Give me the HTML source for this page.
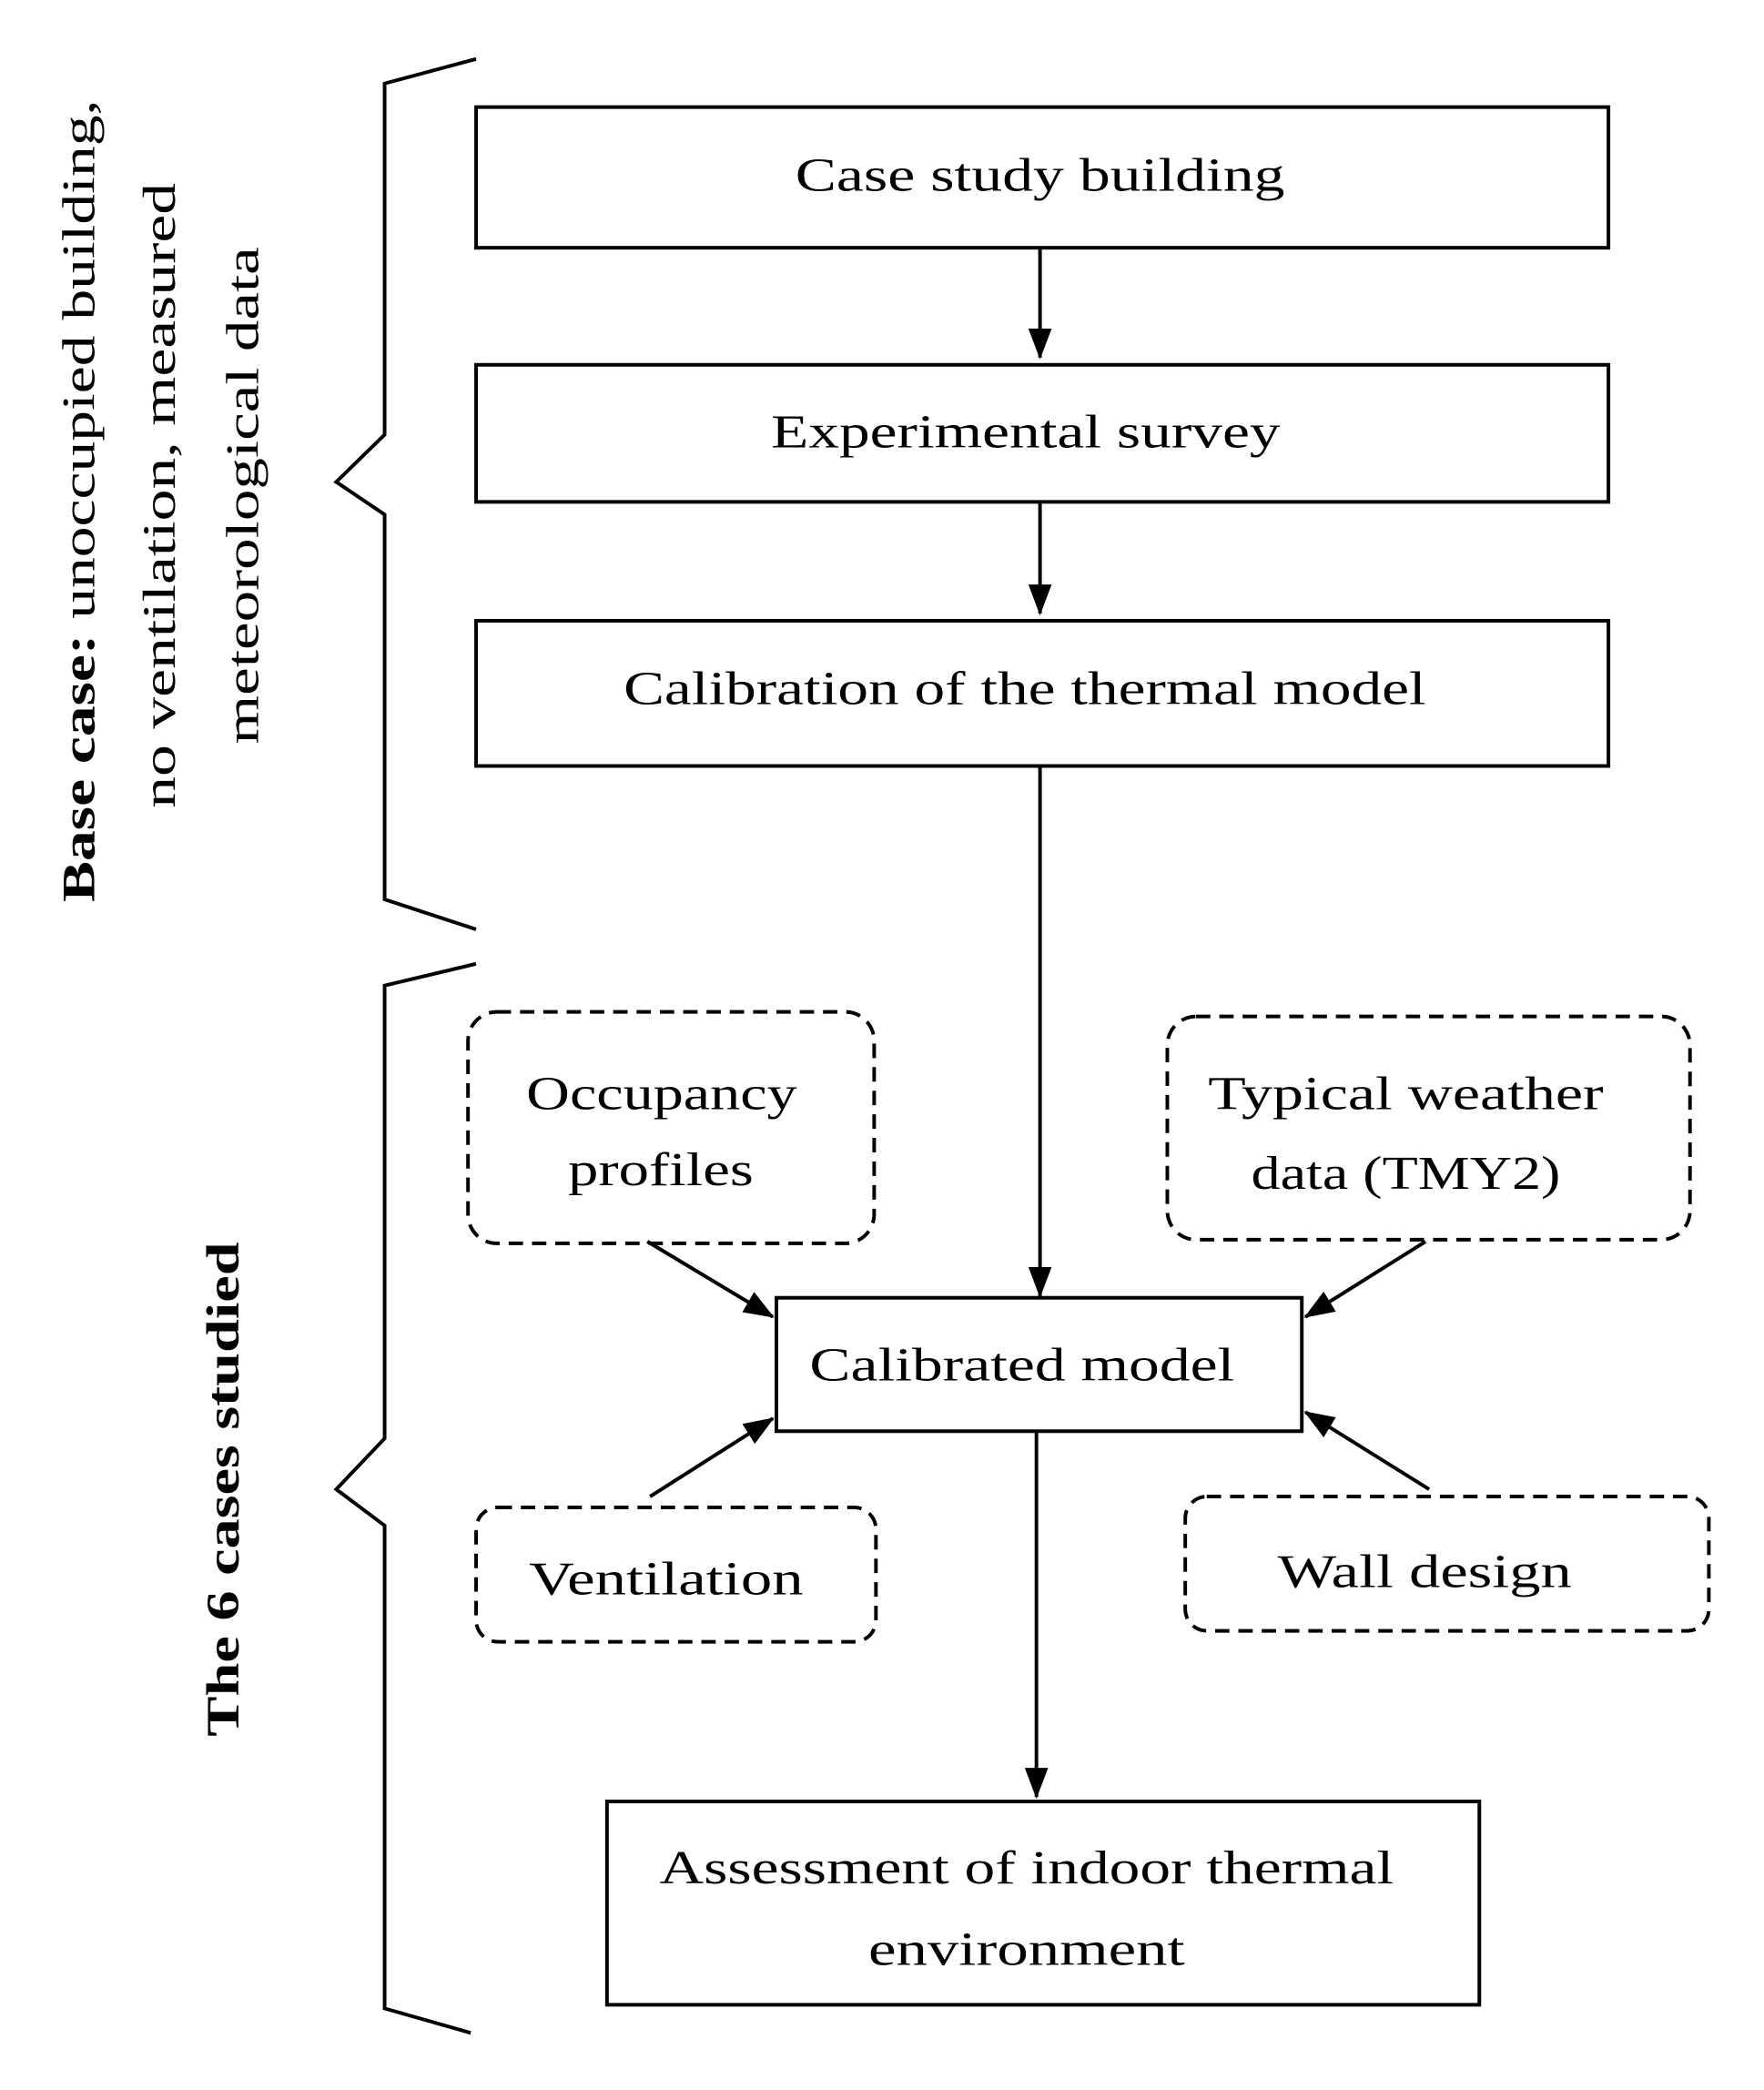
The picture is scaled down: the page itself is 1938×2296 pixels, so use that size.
<!DOCTYPE html>
<html><head><meta charset="utf-8"><style>html,body{margin:0;padding:0;background:#fff}svg{display:block}</style></head>
<body>
<svg width="1938" height="2296" viewBox="0 0 1938 2296" xmlns="http://www.w3.org/2000/svg" font-family="'Liberation Serif', serif" fill="none">
<defs>
<marker id="b" markerWidth="34" markerHeight="26" refX="32" refY="13" orient="auto" markerUnits="userSpaceOnUse"><path d="M0,0 L34,13 L0,26 z" fill="#000"/></marker></defs>
<g transform="scale(0.985,0.997)">
<g stroke="#000" stroke-width="4">
<path d="M531,65 L429,92 L429,479 L375,531 L429,567 L429,991 L531,1024"/>
<path d="M531,1062 L429,1086 L429,1585 L375,1641 L429,1681 L429,2213 L525,2240"/>
<rect x="531" y="118" width="1263" height="155"/>
<rect x="531" y="402" width="1263" height="151"/>
<rect x="531" y="684" width="1263" height="160"/>
<rect x="866" y="1430" width="586" height="147"/>
<rect x="677" y="1985" width="973" height="224"/>
</g>
<g stroke="#000" stroke-width="4" stroke-dasharray="16,10">
<rect x="522" y="1115" width="453" height="255" rx="32"/>
<rect x="1302" y="1120" width="583" height="246" rx="32"/>
<rect x="531" y="1661" width="446" height="148" rx="24"/>
<rect x="1322" y="1649" width="584" height="148" rx="24"/>
</g>
<g stroke="#000" stroke-width="4" marker-end="url(#b)">
<line x1="1160" y1="273" x2="1160" y2="394"/>
<line x1="1160" y1="553" x2="1160" y2="676"/>
<line x1="1160" y1="844" x2="1160" y2="1428"/>
<line x1="1156" y1="1577" x2="1156" y2="1980"/>
<line x1="722" y1="1368" x2="862" y2="1451"/>
<line x1="1590" y1="1368" x2="1456" y2="1451"/>
<line x1="725" y1="1649" x2="862" y2="1563"/>
<line x1="1594" y1="1641" x2="1456" y2="1556"/>
</g>
<g fill="#000" font-size="52" text-anchor="middle">
<text x="1160" y="210" textLength="546" lengthAdjust="spacingAndGlyphs">Case study building</text>
<text x="1144" y="493" textLength="568" lengthAdjust="spacingAndGlyphs">Experimental survey</text>
<text x="1143" y="776" textLength="895" lengthAdjust="spacingAndGlyphs">Calibration of the thermal model</text>
<text x="738" y="1222" textLength="302" lengthAdjust="spacingAndGlyphs">Occupancy</text>
<text x="737" y="1306" textLength="207" lengthAdjust="spacingAndGlyphs">profiles</text>
<text x="1568" y="1222" textLength="441" lengthAdjust="spacingAndGlyphs">Typical weather</text>
<text x="1568" y="1310" textLength="345" lengthAdjust="spacingAndGlyphs">data (TMY2)</text>
<text x="1140" y="1521" textLength="474" lengthAdjust="spacingAndGlyphs">Calibrated model</text>
<text x="743" y="1757" textLength="306" lengthAdjust="spacingAndGlyphs">Ventilation</text>
<text x="1589" y="1749" textLength="328" lengthAdjust="spacingAndGlyphs">Wall design</text>
<text x="1145" y="2075" textLength="819" lengthAdjust="spacingAndGlyphs">Assessment of indoor thermal</text>
<text x="1145" y="2165" textLength="353" lengthAdjust="spacingAndGlyphs">environment</text>
<text transform="translate(105,552) rotate(-90)" textLength="884" lengthAdjust="spacingAndGlyphs"><tspan font-weight="bold">Base case:</tspan> unoccupied building,</text>
<text transform="translate(195,546) rotate(-90)" textLength="689" lengthAdjust="spacingAndGlyphs">no ventilation, measured</text>
<text transform="translate(288,546) rotate(-90)" textLength="548" lengthAdjust="spacingAndGlyphs">meteorological data</text>
<text transform="translate(266,1641) rotate(-90)" font-weight="bold" textLength="545" lengthAdjust="spacingAndGlyphs">The 6 cases studied</text>
</g>
</g>
</svg>
</body></html>
